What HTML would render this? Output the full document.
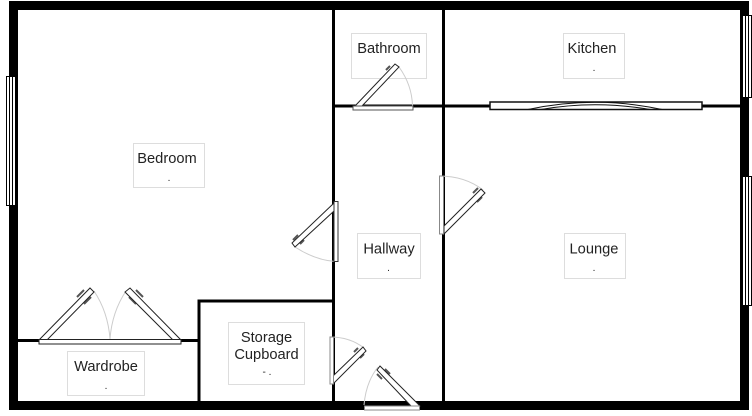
<!DOCTYPE html>
<html>
<head>
<meta charset="utf-8">
<style>
html,body{margin:0;padding:0;background:#fff;width:752px;height:416px;overflow:hidden}
svg{display:block}
text{font-family:"Liberation Sans",Arial,sans-serif;font-size:14.67px;fill:#222;text-anchor:middle}
.box{fill:#fff;stroke:#ddd;stroke-width:1}
.dot{font-size:10px}
.arc{fill:none;stroke:#ccc;stroke-width:1}
.frame{fill:#fff;stroke:#222;stroke-width:1}
.leaf{fill:#fff;stroke:#222;stroke-width:1}
.win{fill:#fff;stroke:#000;stroke-width:1}
.hd{fill:none;stroke:#555;stroke-width:2}
</style>
</head>
<body>
<svg width="752" height="416" viewBox="0 0 752 416" xmlns="http://www.w3.org/2000/svg">
<!-- outer wall -->
<rect x="13.5" y="5.5" width="731" height="400" fill="#fff" stroke="#000" stroke-width="9"/>
<!-- interior walls -->
<g stroke="#000" stroke-width="3" fill="none">
<path d="M333.5 10V401"/>
<path d="M443.5 10V401"/>
<path d="M333.5 106H740"/>
<path d="M18 340.5H199"/>
<path d="M199 401V301H333.5"/>
</g>
<!-- windows -->
<g class="win">
<rect class="win" x="6.5" y="76.5" width="9" height="129"/><path class="win" d="M9.5 76.5V205.5M12.5 76.5V205.5"/>
<rect class="win" x="742.5" y="15.5" width="9" height="82"/><path class="win" d="M745.5 15.5V97.5M748.5 15.5V97.5"/>
<rect class="win" x="742.5" y="176.5" width="9" height="129"/><path class="win" d="M745.5 176.5V305.5M748.5 176.5V305.5"/>
</g>
<!-- sliding door -->
<rect x="490" y="102" width="212" height="7.5" fill="#fff" stroke="#111" stroke-width="1.5"/>
<path d="M528 109.5Q595 95 662 109.5M541 109.5Q595 100 650 109.5" fill="none" stroke="#111" stroke-width="1"/>
<!-- labels -->
<rect class="box" x="133.5" y="143.500" width="71" height="44"/>
<text x="167" y="163">Bedroom</text><text class="dot" x="169" y="181">.</text>
<rect class="box" x="67.5" y="351.5" width="77" height="44"/>
<text x="106" y="371">Wardrobe</text><text class="dot" x="106" y="389">.</text>
<rect class="box" x="228.5" y="322.5" width="76" height="62"/>
<text x="266.5" y="342">Storage</text><text x="266.5" y="359">Cupboard</text><text class="dot" x="267" y="375">- .</text>
<rect class="box" x="351.5" y="33.5" width="75" height="45"/>
<text x="389" y="53">Bathroom</text>
<rect class="box" x="563.5" y="33.5" width="61" height="45"/>
<text x="592" y="53">Kitchen</text><text class="dot" x="594" y="71">.</text>
<rect class="box" x="357.5" y="233.5" width="63" height="45"/>
<text x="389" y="253.5">Hallway</text><text class="dot" x="388.5" y="271">.</text>
<rect class="box" x="564.5" y="233.5" width="61" height="45"/>
<text x="594" y="253.5">Lounge</text><text class="dot" x="594" y="271">.</text>
<!-- wardrobe doors -->
<path class="arc" d="M94 291Q108 312 110 339M126 291Q112 312 110 339"/>
<path class="hd" d="M77 297L84 290M84 304L91 297M136 290L143 297M129 297L136 304"/>
<polygon class="leaf" points="39,340 90,288 94,292 47,340"/>
<polygon class="leaf" points="181,340 130,288 125,292 173,340"/>
<rect class="frame" x="39" y="339.5" width="142" height="4.5"/>
<!-- bathroom door -->
<path class="arc" d="M399 67Q412 85 412.5 106"/>
<path class="hd" d="M386 70L390 66"/>
<polygon class="leaf" points="355,106 395,64 399,67 362,106"/>
<rect x="353" y="106" width="60" height="4" fill="#fff" stroke="#555" stroke-width="1"/>
<!-- bedroom door -->
<path class="arc" d="M295 247Q315 260 335 261.5"/>
<path class="hd" d="M293 240L298 235M300 244L304 240"/>
<polygon class="leaf" points="334,203 292,243 295,247 334,211"/>
<rect x="334" y="201.5" width="4" height="60" fill="#fff" stroke="#333" stroke-width="1"/>
<!-- lounge door -->
<path class="arc" d="M439 176Q465 176 483 190"/>
<path class="hd" d="M473 193L478 188M477 202L482 197"/>
<polygon class="leaf" points="444,226 481,189 485,193 444,234"/>
<rect x="439.5" y="176" width="4" height="58" fill="#fff" stroke="#888" stroke-width="1"/>
<!-- cupboard door -->
<path class="arc" d="M330 337Q350 337 364 348"/>
<path class="hd" d="M354 352L358 348M360 358L364 354"/>
<polygon class="leaf" points="333,376 363,347 366,351 333,384"/>
<rect x="330" y="337" width="3.5" height="47" fill="#fff" stroke="#888" stroke-width="1"/>
<!-- front door -->
<path class="arc" d="M364 405Q366 382 378 367"/>
<path class="hd" d="M385 369L390 374M377 374L382 379"/>
<polygon class="leaf" points="411,406 377,370 380,366 420,406"/>
<rect x="364.5" y="406" width="55" height="4" fill="#fff" stroke="#888" stroke-width="1"/>
</svg>
</body>
</html>
